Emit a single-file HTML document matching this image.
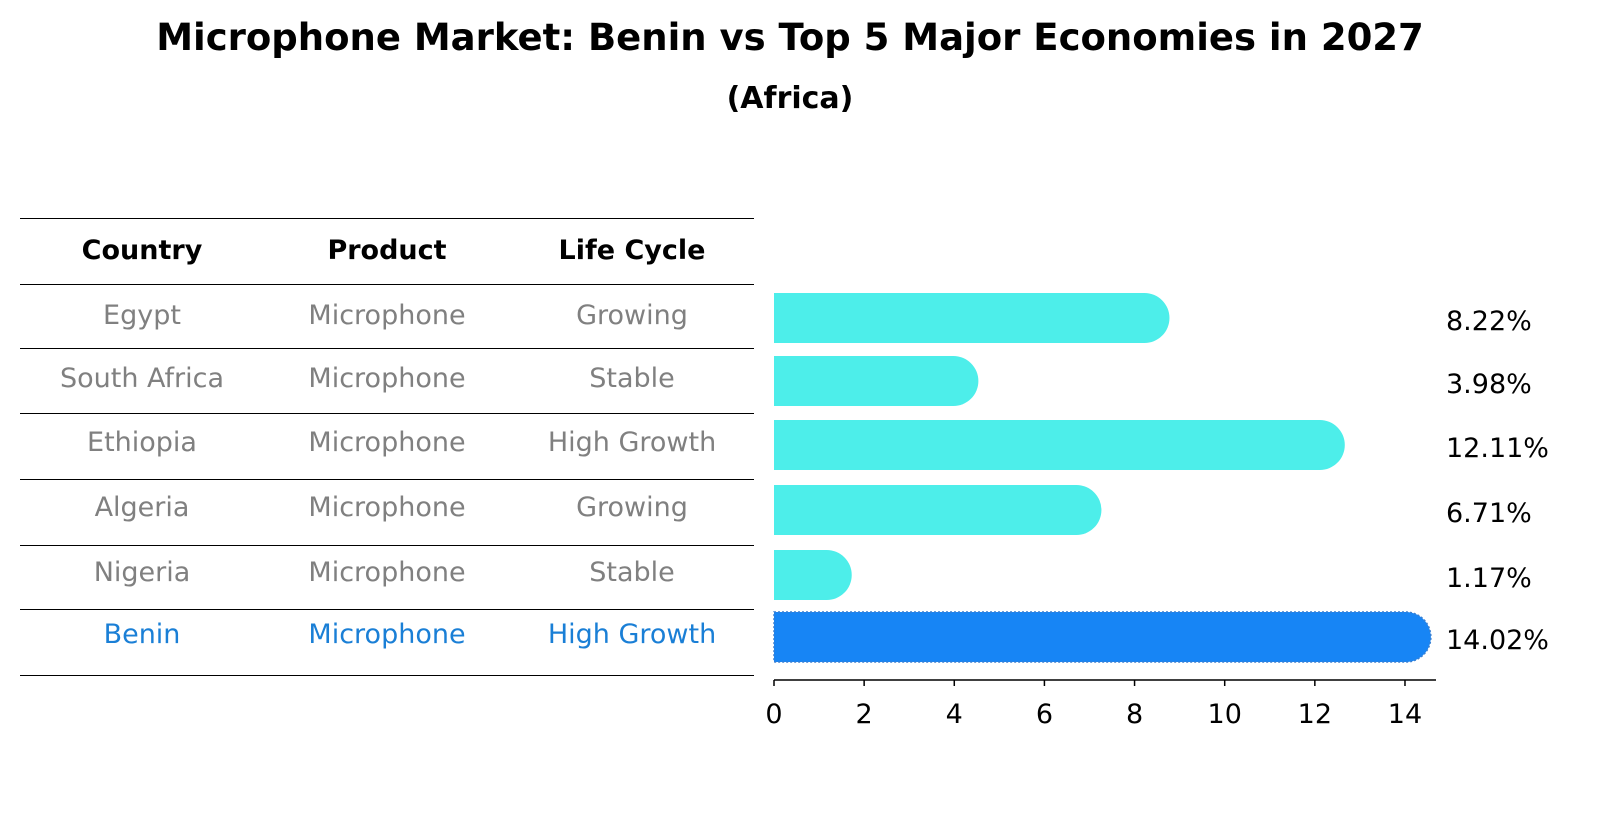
<!DOCTYPE html>
<html><head><meta charset="utf-8"><style>
body{margin:0;background:#fff;font-family:"Liberation Sans","DejaVu Sans",sans-serif}
</style></head><body>
<svg width="1604" height="823" xmlns="http://www.w3.org/2000/svg" font-family="DejaVu Sans, Liberation Sans, sans-serif">
<text x="790" y="50" text-anchor="middle" font-size="37" font-weight="bold">Microphone Market: Benin vs Top 5 Major Economies in 2027</text>
<text x="790" y="108" text-anchor="middle" font-size="30" font-weight="bold">(Africa)</text>
<g id="table"></g>
<g id="bars"></g>
<g id="axis"></g>
</svg>
<script>
const countries=["Egypt","South Africa","Ethiopia","Algeria","Nigeria","Benin"];
const products=["Microphone","Microphone","Microphone","Microphone","Microphone","Microphone"];
const lifecycles=["Growing","Stable","High Growth","Growing","Stable","High Growth"];
const values=[8.22,3.98,12.11,6.71,1.17,14.02];
const ticks=[0,2,4,6,8,10,12,14];
const NS="http://www.w3.org/2000/svg";
function mk(t,a,p){const e=document.createElementNS(NS,t);for(const k in a)e.setAttribute(k,a[k]);p.appendChild(e);return e;}
const x0=774,sc=45.07;const xs=v=>x0+v*sc;
const rowY=[318,381,445,510,575,637];
const tb=document.getElementById('table');
const lines=[218,284,348,413,479,545,609,675];
lines.forEach(y=>{const l=mk('line',{x1:20,x2:754,y1:y+0.5,y2:y+0.5,stroke:'#000','stroke-width':1},tb);

});
const cx=[142,387,632];
["Country","Product","Life Cycle"].forEach((h,i)=>{const t=mk('text',{x:cx[i],y:259,'text-anchor':'middle','font-size':27,'font-weight':'bold'},tb);t.textContent=h;

});
countries.forEach((c,r)=>{const col=r===5?'#1a7fd6':'#808080';
[c,products[r],lifecycles[r]].forEach((s,i)=>{const t=mk('text',{x:cx[i],y:rowY[r]+6,'text-anchor':'middle','font-size':27,fill:col},tb);t.textContent=s;

});});
const bg=document.getElementById('bars');const h=50,r=25;
values.forEach((v,i)=>{const yc=rowY[i];const xe=xs(v);const col=i===5?'#1785F5':'#4DEEEA';
const p=mk('path',{d:`M${x0},${yc-h/2} H${xe} A${r},${r} 0 0 1 ${xe},${yc+h/2} H${x0} Z`,fill:col},bg);
if(i===5){p.setAttribute('stroke','#3a7fd0');p.setAttribute('stroke-dasharray','2,2');p.setAttribute('stroke-width','1.5');}


const t=mk('text',{x:1446,y:yc+12,'font-size':27},bg);t.textContent=v.toFixed(2)+'%';

});
const ax=document.getElementById('axis');
mk('line',{x1:x0,x2:1436,y1:680,y2:680,stroke:'#000','stroke-width':1.5},ax);
ticks.forEach(v=>{mk('line',{x1:xs(v),x2:xs(v),y1:680,y2:686,stroke:'#000','stroke-width':1.5},ax);
const t=mk('text',{x:xs(v),y:723,'text-anchor':'middle','font-size':27},ax);t.textContent=v;

});
</script>
</body></html>
